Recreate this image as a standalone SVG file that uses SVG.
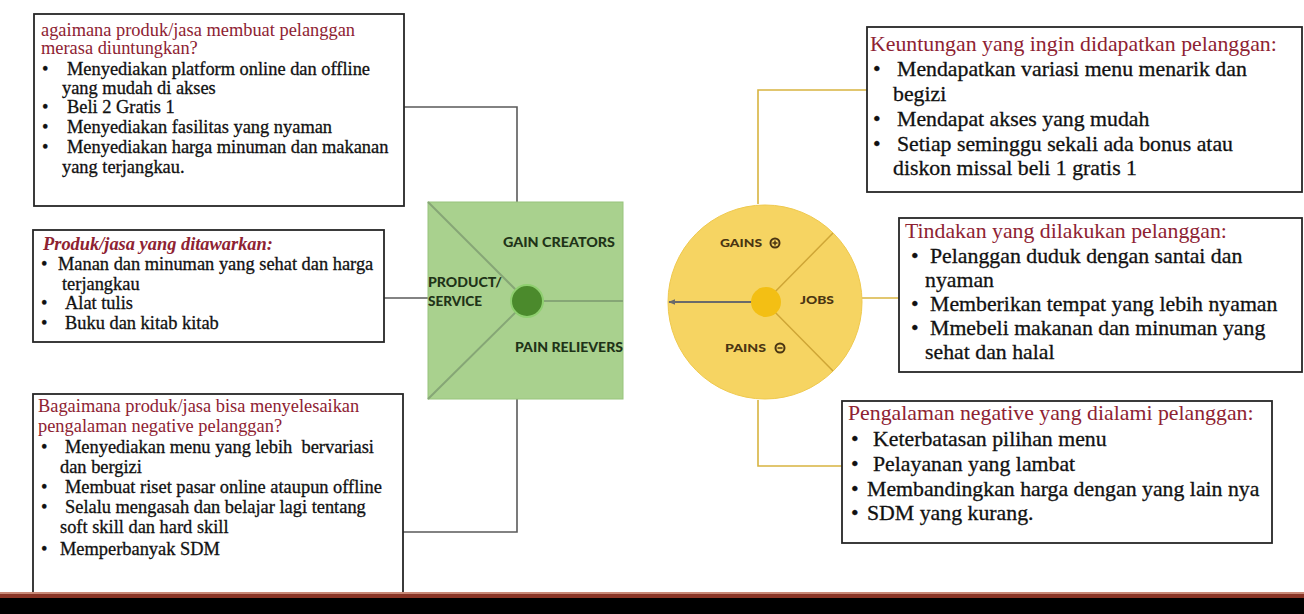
<svg xmlns="http://www.w3.org/2000/svg" width="1304" height="614" viewBox="0 0 1304 614">
<defs>
<style>
.box{fill:#fff;stroke:#262626;stroke-width:1.8}
.t{font-family:"Liberation Serif","Times New Roman",serif;fill:#111;stroke:#111;stroke-width:0.3}
.l{font-size:18.4px}
.r{font-size:21.8px}
.h{fill:#8e2232;stroke:none}
.lab{font-family:Lato,"Open Sans",sans-serif;font-weight:900;fill:#1f3318;font-size:12.5px}
.jl{font-family:Lato,"Open Sans",sans-serif;font-weight:900;fill:#4a3512;font-size:12px}
.cl{fill:none;stroke:#5a5a5a;stroke-width:1.6}
.cr{fill:none;stroke:#d8b440;stroke-width:1.6}
</style>
<marker id="ah" viewBox="0 0 10 10" refX="9" refY="5" markerWidth="7" markerHeight="7" orient="auto-start-reverse" markerUnits="userSpaceOnUse">
<path d="M0,1 L10,5 L0,9 z" fill="#6a6a6a"/>
</marker>
</defs>
<rect width="1304" height="614" fill="#fff"/>

<g id="connectors">
<path class="cl" d="M404,107 H517 V202"/>
<path class="cl" d="M384,298 H428"/>
<path class="cl" d="M517,399 V532 H403"/>
<path class="cr" d="M758,204 V90 H867"/>
<path class="cr" d="M862,298 H899"/>
<path class="cr" d="M758,400 V466 H842"/>
</g>

<g id="value-map">
<rect x="428" y="202" width="195" height="197" fill="#a9d18e" stroke="#98c47c" stroke-width="1"/>
<path d="M428,202 L527,301 M428,399 L527,301 M527,301 H623" stroke="#86a676" stroke-width="2" fill="none"/>
<circle cx="527" cy="301" r="16" fill="#4b8a2c" stroke="#8fcf70" stroke-width="2"/>
<text class="lab" x="503" y="247" textLength="112" lengthAdjust="spacingAndGlyphs">GAIN CREATORS</text>
<text class="lab" x="428" y="287" textLength="74" lengthAdjust="spacingAndGlyphs">PRODUCT/</text>
<text class="lab" x="428" y="306" textLength="54" lengthAdjust="spacingAndGlyphs">SERVICE</text>
<text class="lab" x="515" y="352" textLength="108" lengthAdjust="spacingAndGlyphs">PAIN RELIEVERS</text>
</g>

<g id="customer-profile">
<circle cx="765" cy="302" r="97" fill="#f6d462" stroke="#efc94e" stroke-width="1"/>
<path d="M765,302 L833,233 M765,302 L833,371" stroke="#cfa636" stroke-width="1.5" fill="none"/>
<path d="M752,302 H669" stroke="#6a6a6a" stroke-width="2" fill="none" marker-end="url(#ah)"/>
<circle cx="766" cy="302" r="15" fill="#f3bf14"/>
<text class="jl" x="720" y="247" textLength="42" lengthAdjust="spacingAndGlyphs">GAINS</text>
<circle cx="775" cy="243" r="4.5" fill="none" stroke="#4a3512" stroke-width="2"/>
<path d="M772.5,243 h5 M775,240.5 v5" stroke="#4a3512" stroke-width="1.5"/>
<text class="jl" x="800" y="304" textLength="34" lengthAdjust="spacingAndGlyphs">JOBS</text>
<text class="jl" x="725" y="352" textLength="41" lengthAdjust="spacingAndGlyphs">PAINS</text>
<circle cx="780" cy="348" r="4.5" fill="none" stroke="#4a3512" stroke-width="2"/>
<path d="M777.5,348 h5" stroke="#4a3512" stroke-width="1.5"/>
</g>

<g id="gain-creators-box">
<rect class="box" x="34" y="14" width="370" height="192"/>
<text class="t l h" x="41" y="36">agaimana produk/jasa membuat pelanggan</text>
<text class="t l h" x="41" y="54">merasa diuntungkan?</text>
<text class="t l" x="42" y="75">•</text><text class="t l" x="67" y="75">Menyediakan platform online dan offline</text>
<text class="t l" x="62" y="94">yang mudah di akses</text>
<text class="t l" x="42" y="113">•</text><text class="t l" x="67" y="113">Beli 2 Gratis 1</text>
<text class="t l" x="42" y="133">•</text><text class="t l" x="67" y="133">Menyediakan fasilitas yang nyaman</text>
<text class="t l" x="42" y="153">•</text><text class="t l" x="67" y="153">Menyediakan harga minuman dan makanan</text>
<text class="t l" x="62" y="173">yang terjangkau.</text>
</g>

<g id="products-box">
<rect class="box" x="33" y="230" width="351" height="112"/>
<text class="t l h" x="43" y="250" font-weight="bold" font-style="italic">Produk/jasa yang ditawarkan:</text>
<text class="t l" x="41" y="270">•</text><text class="t l" x="58" y="270">Manan dan minuman yang sehat dan harga</text>
<text class="t l" x="62" y="290">terjangkau</text>
<text class="t l" x="41" y="309">•</text><text class="t l" x="65" y="309">Alat tulis</text>
<text class="t l" x="41" y="329">•</text><text class="t l" x="65" y="329">Buku dan kitab kitab</text>
</g>

<g id="pain-relievers-box">
<rect class="box" x="33" y="394" width="370" height="215"/>
<text class="t l h" x="38" y="412">Bagaimana produk/jasa bisa menyelesaikan</text>
<text class="t l h" x="38" y="432">pengalaman negative pelanggan?</text>
<text class="t l" x="41" y="453">•</text><text class="t l" x="65" y="453">Menyediakan menu yang lebih&#160; bervariasi</text>
<text class="t l" x="60" y="473">dan bergizi</text>
<text class="t l" x="41" y="493">•</text><text class="t l" x="65" y="493">Membuat riset pasar online ataupun offline</text>
<text class="t l" x="41" y="513">•</text><text class="t l" x="65" y="513">Selalu mengasah dan belajar lagi tentang</text>
<text class="t l" x="60" y="533">soft skill dan hard skill</text>
<text class="t l" x="41" y="555">•</text><text class="t l" x="60" y="555">Memperbanyak SDM</text>
</g>

<g id="gains-box">
<rect class="box" x="867" y="27" width="435" height="165"/>
<text class="t r h" x="870" y="51">Keuntungan yang ingin didapatkan pelanggan:</text>
<text class="t r" x="873" y="76">•</text><text class="t r" x="897" y="76">Mendapatkan variasi menu menarik dan</text>
<text class="t r" x="893" y="101">begizi</text>
<text class="t r" x="873" y="126">•</text><text class="t r" x="897" y="126">Mendapat akses yang mudah</text>
<text class="t r" x="873" y="151">•</text><text class="t r" x="897" y="151">Setiap seminggu sekali ada bonus atau</text>
<text class="t r" x="893" y="175">diskon missal beli 1 gratis 1</text>
</g>

<g id="jobs-box">
<rect class="box" x="899" y="218" width="403" height="154"/>
<text class="t r h" x="905" y="238">Tindakan yang dilakukan pelanggan:</text>
<text class="t r" x="911" y="263">•</text><text class="t r" x="930" y="263">Pelanggan duduk dengan santai dan</text>
<text class="t r" x="925" y="287">nyaman</text>
<text class="t r" x="911" y="311">•</text><text class="t r" x="930" y="311">Memberikan tempat yang lebih nyaman</text>
<text class="t r" x="911" y="335">•</text><text class="t r" x="930" y="335">Mmebeli makanan dan minuman yang</text>
<text class="t r" x="925" y="359">sehat dan halal</text>
</g>

<g id="pains-box">
<rect class="box" x="842" y="401" width="430" height="142"/>
<text class="t r h" x="848" y="420">Pengalaman negative yang dialami pelanggan:</text>
<text class="t r" x="851" y="446">•</text><text class="t r" x="873" y="446">Keterbatasan pilihan menu</text>
<text class="t r" x="851" y="471">•</text><text class="t r" x="873" y="471">Pelayanan yang lambat</text>
<text class="t r" x="851" y="496">•</text><text class="t r" x="867" y="496">Membandingkan harga dengan yang lain nya</text>
<text class="t r" x="851" y="520">•</text><text class="t r" x="867" y="520">SDM yang kurang.</text>
</g>

<rect x="0" y="592" width="1304" height="3" fill="#c98a78"/>
<rect x="0" y="594" width="1304" height="4" fill="#8a3526"/>
<rect x="0" y="598" width="1304" height="16" fill="#000"/>
</svg>
